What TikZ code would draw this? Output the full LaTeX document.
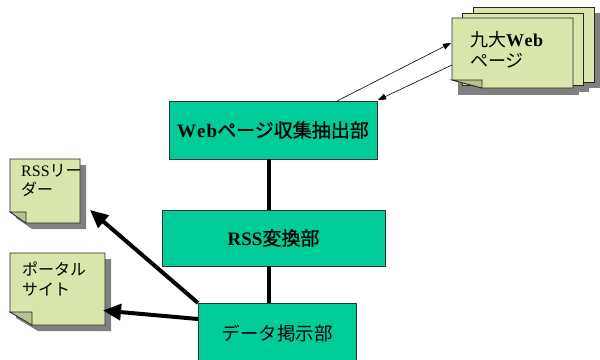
\documentclass[tikz,border=0pt]{standalone}
\usepackage{fontspec}
\setmainfont{Liberation Serif}
\newfontfamily\jp{Noto Sans CJK JP}
\newfontfamily\jpb[FakeBold=1]{Noto Sans CJK JP}
\usetikzlibrary{arrows.meta}
\definecolor{boxc}{RGB}{0,204,153}
\definecolor{notec}{RGB}{216,230,172}
\definecolor{foldc}{RGB}{180,194,142}
\definecolor{shadc}{RGB}{128,128,128}
\newcommand{\mynote}[6]{%
  \fill[shadc] (#1+6,#2+6) -- (#3+6,#2+6) -- (#3+6,#4+6) -- (#1+#5+6,#4+6) -- (#1+6,#4-#6+6) -- cycle;
  \draw[notebox] (#1,#2) -- (#3,#2) -- (#3,#4) -- (#1+#5,#4) -- (#1,#4-#6) -- cycle;
  \draw[foldbox] (#1,#4-#6) -- (#1+#5,#4-#6) -- (#1+#5,#4) -- cycle;
}
\begin{document}
\begin{tikzpicture}[x=1pt,y=-1pt,
  box/.style={draw=black!80, line width=0.8pt, fill=boxc, inner sep=0pt},
  notebox/.style={draw=black!85, line width=0.7pt, fill=notec},
  foldbox/.style={draw=black!85, line width=0.7pt, fill=foldc},
  thinarrow/.style={draw=black, line width=0.6pt, -{Triangle[length=8pt,width=6pt]}},
  thickarrow/.style={draw=black, line width=4pt, -{Triangle[length=18pt,width=16pt]}},
  link/.style={draw=black, line width=4pt},
  notetext/.style={anchor=north west, align=left, inner sep=0pt}]
\useasboundingbox (0,0) rectangle (600,359);

% web page stack (shadows first)
\fill[shadc] (479,13) rectangle (600,88);
\fill[shadc] (469,19) rectangle (589,92);
\fill[shadc] (458,24) rectangle (579,95);
\draw[notebox] (473,7) rectangle (594,82);
\draw[notebox] (462.5,13) rectangle (583.5,85);
\draw[notebox] (452,18) -- (573,18) -- (573,88) -- (482,88) -- (452,80) -- cycle;
\draw[foldbox] (452,80) -- (482,80) -- (482,88) -- cycle;
\node[notetext, font=\fontsize{18}{21}\selectfont] (kyudai) at (470,31)
  {{\jp 九大}{\bfseries W\kern0.5pt e\kern0.5pt b}\\{\jp ページ}};

% notes
\mynote{10}{159}{80}{223}{16}{11}
\node[notetext, font=\fontsize{16}{19}\selectfont] (reader) at (21,164)
  {RSS{\jp リー}\\{\jp ダー}};
\mynote{10}{253}{105}{325}{22}{13}
\node[notetext, font=\fontsize{16}{20}\selectfont\jp] (portal) at (22,262)
  {ポータル\\サイト};

% boxes
\node[box, minimum width=208, minimum height=58, font=\fontsize{19}{22}\selectfont] (web) at (273,130)
  {{\bfseries W\kern1pt e\kern1pt b}{\jpb ページ収集抽出部}};
\node[box, minimum width=223, minimum height=56, font=\fontsize{19}{22}\selectfont] (rss) at (273.5,238)
  {{\bfseries RSS}{\jpb 変換部}};
\node[box, minimum width=158, minimum height=64] (data) at (277,335) {};
\node[font=\fontsize{18.5}{22}\selectfont\jp] (datatext) at (277,333) {データ掲示部};

% vertical links
\coordinate (vx) at (269,0);
\draw[link] (web.south -| vx) -- (rss.north -| vx);
\draw[link] (rss.south -| vx) -- (data.north -| vx);

% thin arrows
\coordinate (a1s) at (337,101);
\coordinate (a1e) at (451,43);
\coordinate (a2s) at (452,65);
\coordinate (a2e) at (378,100);
\draw[thinarrow] (a1s) -- (a1e);
\draw[thinarrow] (a2s) -- (a2e);

% thick arrows
\coordinate (b1s) at (198,303);
\coordinate (b1e) at (90,210);
\coordinate (b2s) at (198,319);
\coordinate (b2e) at (103,310.5);
\draw[thickarrow] (b1s) -- (b1e);
\draw[thickarrow] (b2s) -- (b2e);
\end{tikzpicture}
\end{document}
